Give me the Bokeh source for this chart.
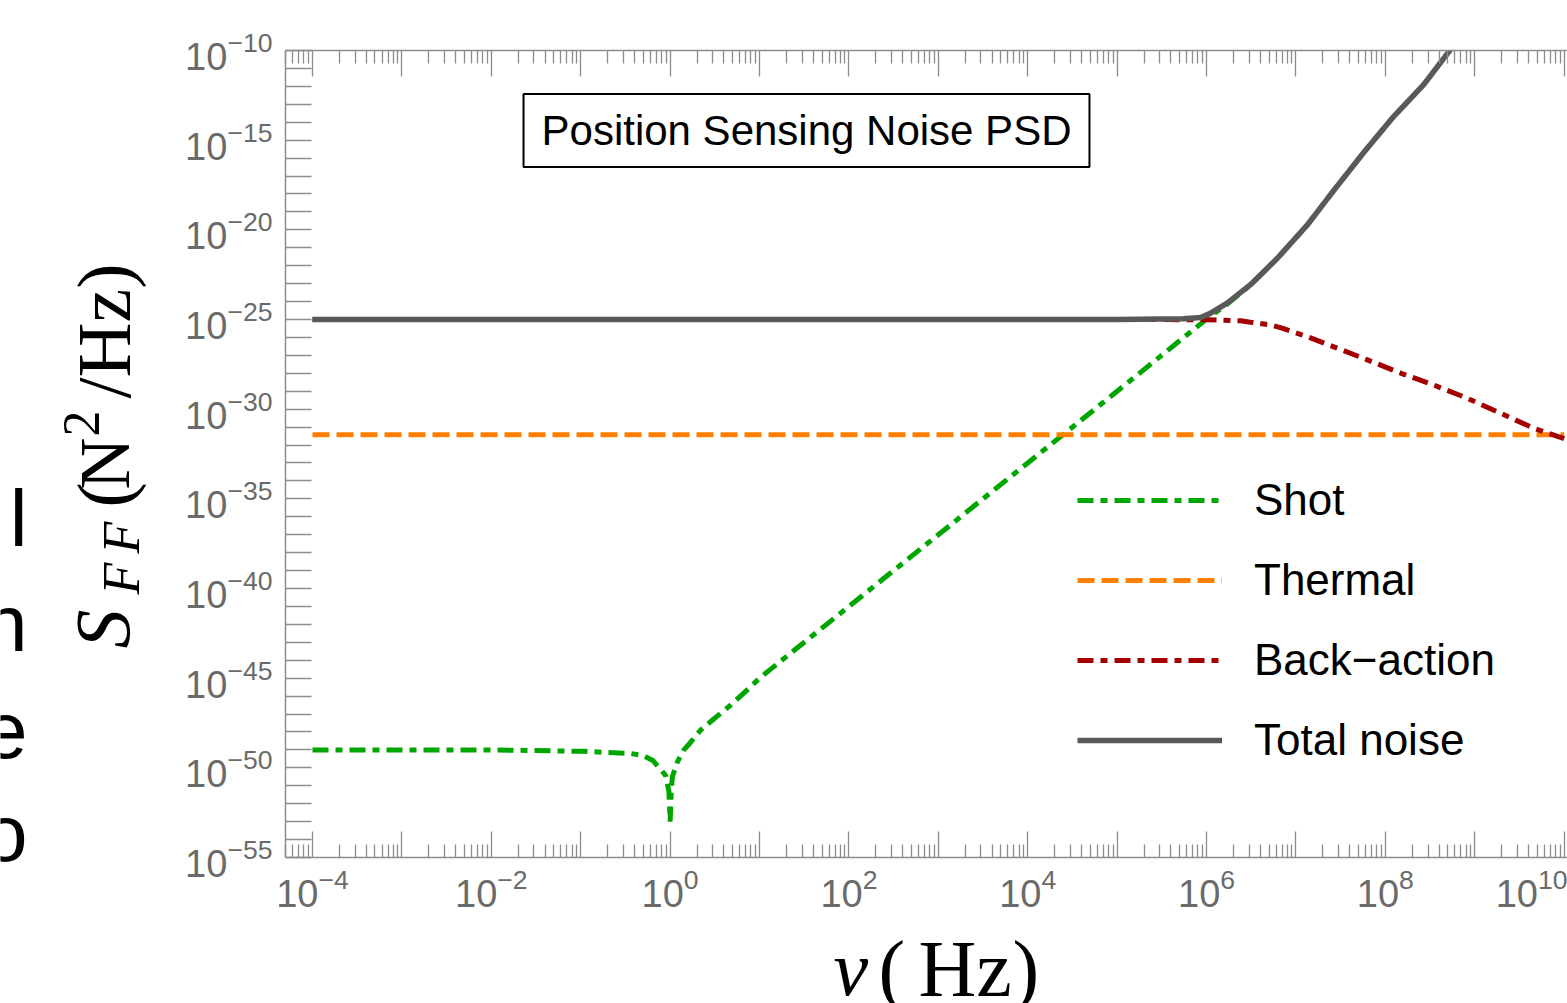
import math
from bokeh.plotting import figure
from bokeh.layouts import row, column
from bokeh.models import (Range1d, FixedTicker, LogAxis, LogTickFormatter,
                          Label, Legend, LegendItem)
from bokeh.embed import file_html
from bokeh.resources import INLINE

# ---------------- data ----------------
thermal_freq = [1e-4, 1e10]
thermal_psd = [3.8e-32, 3.8e-32]

shot_freq = [1e-4, 1e-3, 1e-2, 0.11, 0.36, 0.49, 0.64, 0.78, 0.89, 0.97, 1.0,
             1.03, 1.06, 1.2, 1.41, 1.69, 2.19, 3.05, 4.74, 7.9, 10, 100, 1e3,
             1e4, 1e5, 1e6, 1.7e6, 3.1e6, 6.2e6, 1.35e7, 2.6e7, 5.7e7, 1.23e8,
             2.7e8, 5.4e8, 1e9]
shot_psd = [1.0e-49, 1.0e-49, 1.0e-49, 8.3e-50, 6.3e-50, 5.0e-50, 2.6e-50,
            8.3e-51, 3.8e-51, 5.0e-52, 1.0e-53, 5.0e-52, 3.2e-51, 2.0e-50,
            9.5e-50, 2.6e-49, 1.26e-48, 5.1e-48, 3.1e-47, 3.2e-46, 1.0e-45,
            1.0e-41, 1.0e-37, 1.0e-33, 1.0e-29, 1.05e-25, 7.2e-25, 8.5e-24,
            2.6e-22, 1.95e-20, 1.4e-18, 2.0e-16, 2.0e-14, 1.3e-12, 1.2e-10,
            5.0e-9]

ba_freq = [1e-4, 1e0, 1e4, 1e6, 2.4e6, 3.1e6, 5.2e6, 6.7e6, 1.35e7, 2.6e7,
           6.3e7, 1.5e8, 3.5e8, 8.3e8, 1.95e9, 4.6e9, 1.0e10]
ba_psd = [1.0e-25, 1.0e-25, 1.0e-25, 9.8e-26, 8.5e-26, 7.1e-26, 5.0e-26,
          3.5e-26, 1.1e-26, 3.1e-27, 5.6e-28, 1.0e-28, 2.2e-29, 4.0e-30,
          5.9e-31, 8.5e-32, 2.3e-32]

total_freq = [1e-4, 1e0, 1e4, 1e5, 5.5e5, 8.6e5, 1.1e6, 1.7e6, 3.1e6, 6.2e6,
              1.35e7, 2.6e7, 5.7e7, 1.23e8, 2.7e8, 5.4e8, 1e9]
total_psd = [1.0e-25, 1.0e-25, 1.0e-25, 1.0e-25, 1.1e-25, 1.3e-25, 2.2e-25,
             8.1e-25, 8.7e-24, 2.6e-22, 1.95e-20, 1.4e-18, 2.0e-16, 2.0e-14,
             1.3e-12, 1.2e-10, 5.0e-9]

series_names = ["Shot", "Thermal", "Back\u2212action", "Total noise"]
title_text = "Position Sensing Noise PSD"
edge_fragments = ["l", "n", "e", "o"]

x_major = [10.0 ** k for k in range(-4, 11)]
x_minor = [m * 10.0 ** k for k in range(-5, 11) for m in range(2, 10)]
y_major = [10.0 ** k for k in range(-55, -9)]
x_label_every = 2
y_label_every = 5

# ---------------- main figure ----------------
W, H = 1567, 1003
YW = 168          # width of the strip holding the y title
MH = 933          # height of the main figure
FL = 285 - YW     # left border of the main figure
p = figure(width=W - YW, height=MH, x_axis_type="log", y_axis_type="log",
           x_range=Range1d(4.99e-5, 1.09e10), y_range=Range1d(1e-55, 1e-10),
           min_border_left=FL, min_border_right=0, min_border_top=50,
           min_border_bottom=MH - 857, output_backend="svg",
           toolbar_location=None, background_fill_color="white",
           border_fill_color="white")
p.outline_line_color = None
p.xgrid.visible = False
p.ygrid.visible = False

AX = "#8c8c8c"
LBL = "#6a6a6a"

def blank_overrides(ticks, every):
    return {t: "" for t in ticks if round(math.log10(t)) % every != 0}

def style_axis(ax, labels=True):
    ax.axis_line_color = AX
    ax.axis_line_width = 1.5
    ax.major_tick_line_color = AX
    ax.minor_tick_line_color = AX
    ax.major_tick_line_width = 1.3
    ax.minor_tick_line_width = 1.3
    ax.major_tick_in = 26
    ax.major_tick_out = 0
    ax.minor_tick_in = 13
    ax.minor_tick_out = 0
    ax.major_label_text_color = LBL
    ax.major_label_text_font = "Liberation Sans"
    ax.major_label_text_font_size = "38px"
    if not labels:
        ax.major_label_text_font_size = "0px"

xb = p.xaxis[0]
xb.ticker = FixedTicker(ticks=x_major, minor_ticks=x_minor)
xb.formatter = LogTickFormatter()
xb.major_label_overrides = blank_overrides(x_major, x_label_every)
style_axis(xb)
xb.major_label_standoff = 10

xt = LogAxis(ticker=FixedTicker(ticks=x_major, minor_ticks=x_minor),
             major_label_overrides={t: "" for t in x_major})
style_axis(xt, labels=False)
p.add_layout(xt, "above")

yl = p.yaxis[0]
yl.ticker = FixedTicker(ticks=y_major, minor_ticks=[])
yl.formatter = LogTickFormatter()
yl.major_label_overrides = blank_overrides(y_major, y_label_every)
style_axis(yl)
yl.major_label_standoff = 13

# ---------------- series ----------------
r_shot = p.line(shot_freq, shot_psd, line_color="#00a600", line_width=5,
                line_dash="16 7 7 7")
r_th = p.line(thermal_freq, thermal_psd, line_color="#ff8000", line_width=5,
              line_dash="17 7")
r_ba = p.line(ba_freq, ba_psd, line_color="#a50000", line_width=5,
              line_dash="16 7 7 7")
r_tot = p.line(total_freq, total_psd, line_color="#595959", line_width=5.5)

legend = Legend(items=[LegendItem(label=series_names[0], renderers=[r_shot]),
                       LegendItem(label=series_names[1], renderers=[r_th]),
                       LegendItem(label=series_names[2], renderers=[r_ba]),
                       LegendItem(label=series_names[3], renderers=[r_tot])],
                location=(792, 77), glyph_width=145, glyph_height=80,
                label_height=80, label_standoff=32, spacing=0, padding=0,
                margin=0, border_line_color=None, background_fill_alpha=0,
                label_text_font="Liberation Sans", label_text_font_size="44px",
                label_text_color="black")
p.add_layout(legend, "center")

p.add_layout(Label(x=521, y=727, x_units="screen", y_units="screen",
                   text=title_text, text_font="Liberation Sans",
                   text_font_size="42px", text_color="black",
                   text_align="center", text_baseline="middle",
                   border_line_color="black", border_line_width=2,
                   background_fill_color="white",
                   padding=dict(left=18, right=18, top=13, bottom=13)))

# ---------------- strips for the composed axis titles ----------------
def strip(w, h, left=0):
    f = figure(width=w, height=h, x_axis_location=None, y_axis_location=None,
               min_border=0, min_border_left=left, output_backend="svg",
               toolbar_location=None, x_range=Range1d(0, 1),
               y_range=Range1d(0, 1), background_fill_color="white",
               border_fill_color="white")
    f.outline_line_color = None
    f.grid.visible = False
    return f

serif = "Liberation Serif"
def lab(f, x, y, t, size, style="normal", angle=0, font=serif, align="left"):
    f.add_layout(Label(x=x, y=y, x_units="screen", y_units="screen", text=t,
                       text_font=font, text_font_size=size,
                       text_font_style=style, text_color="black",
                       text_align=align, text_baseline="alphabetic",
                       angle=angle, angle_units="deg"))

# y title: S_FF (N^2/Hz), read bottom-to-top
yfig = strip(YW, H)
lab(yfig, 102, H - 648, "S", "78px", "italic", 90)
lab(yfig, 121, H - 594, "F", "52px", "italic", 90)
lab(yfig, 121, H - 553, "F", "52px", "italic", 90)
lab(yfig, 103, H - 507, "(", "76px", "normal", 90)
lab(yfig, 104, H - 489, "N", "72px", "normal", 90)
lab(yfig, 81, H - 436, "2", "52px", "normal", 90)
lab(yfig, 103, H - 398, "/Hz)", "76px", "normal", 90)
for txt, yy in zip(edge_fragments, [485, 380, 273, 170]):
    lab(yfig, 27, yy, txt, "80px", font="Liberation Sans", align="right")

# x title: nu (Hz)
xfig = strip(W - YW, H - MH, left=FL)
lab(xfig, 833 - 285, 35, "\u03bd", "78px", "italic")
lab(xfig, 878 - 285, 35, "(", "80px")
lab(xfig, 918 - 285, 35, "Hz", "80px")
lab(xfig, 1012 - 285, 35, ")", "80px")

layout = row(yfig, column(p, xfig, spacing=0), spacing=0)
open("out.html", "w").write(file_html(layout, INLINE))
